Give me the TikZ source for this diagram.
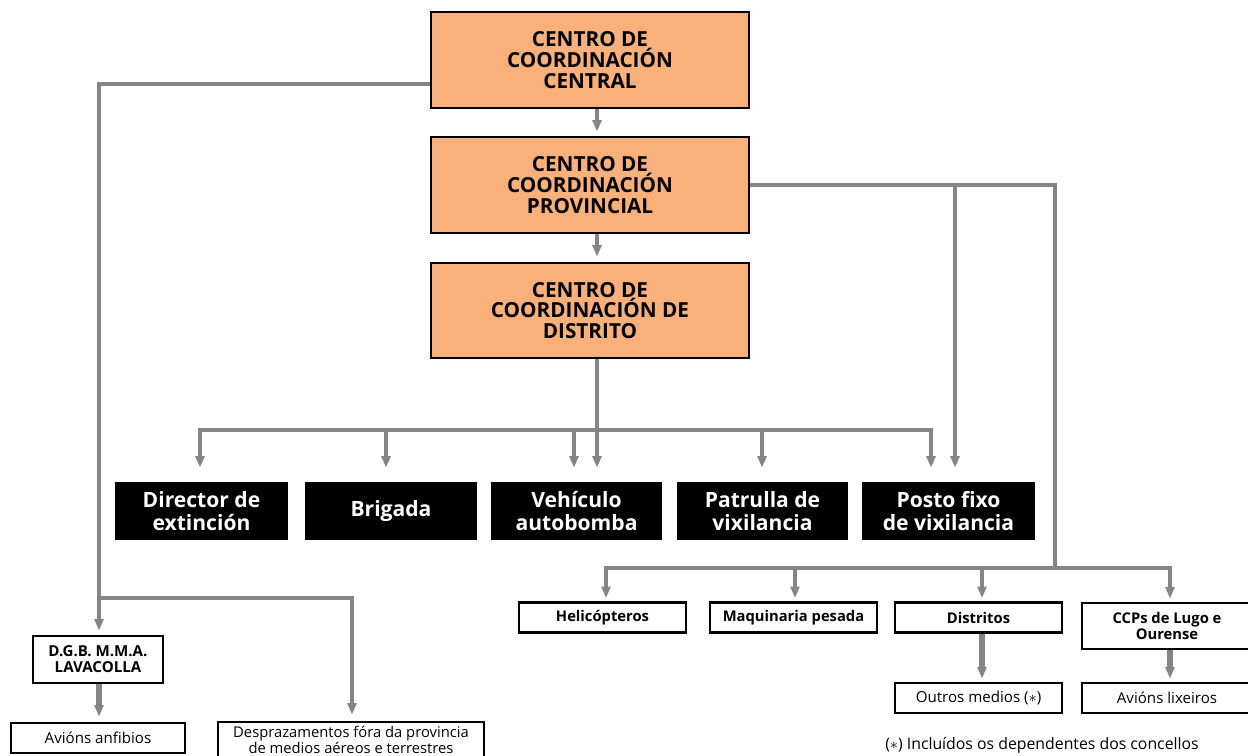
\documentclass[tikz,border=0pt]{standalone}
\usepackage{fontspec}
\setmainfont{Open Sans}
\usetikzlibrary{arrows.meta}
\definecolor{orangebox}{RGB}{249,176,122}
\definecolor{linegray}{RGB}{133,133,133}
\begin{document}
\begin{tikzpicture}[x=0.02cm,y=-0.02cm,
  every node/.style={inner sep=0pt,align=center},
  obox/.style={draw=black,line width=1.6pt,fill=orangebox,minimum width=318*0.02cm,minimum height=96*0.02cm,font=\bfseries\fontsize{11.8}{11.9}\selectfont},
  bbox/.style={fill=black,text=white,minimum width=172*0.02cm,minimum height=58*0.02cm,font=\bfseries\fontsize{12}{13}\selectfont},
  sbox/.style={draw=black,line width=1.6pt,fill=white,minimum height=30*0.02cm,font=\bfseries\fontsize{8.4}{9.4}\selectfont},
  rbox/.style={draw=black,line width=1.6pt,fill=white,minimum height=30*0.02cm,font=\fontsize{8.6}{8.6}\selectfont},
  conn/.style={draw=linegray,line width=2.5pt,-{Triangle[width=5pt,length=6.5pt]}},
  line/.style={draw=linegray,line width=2.5pt}]
\useasboundingbox (0,0) rectangle (1248,756);

% helper coordinates
\coordinate (xm) at (597,0);
\coordinate (xL) at (99,0);
\coordinate (yC) at (0,84);
\coordinate (yBar) at (0,430);
\coordinate (yL) at (0,598);
\coordinate (yR) at (0,568);
\coordinate (x200) at (200,0);
\coordinate (x386) at (386,0);
\coordinate (x574) at (574,0);
\coordinate (x762) at (762,0);
\coordinate (x931) at (931,0);
\coordinate (x955) at (955,0);
\coordinate (x1055) at (1055,0);
\coordinate (x606) at (606,0);
\coordinate (x795) at (795,0);
\coordinate (x982) at (982,0);
\coordinate (x1170) at (1170,0);
\coordinate (xDesp) at (352,0);

% orange centres
\node[obox] (cen) at (590,60) {CENTRO DE\\COORDINACIÓN\\CENTRAL};
\node[obox] (prov) at (590,185) {CENTRO DE\\COORDINACIÓN\\PROVINCIAL};
\node[obox,minimum height=95*0.02cm] (distr) at (590,310.5) {CENTRO DE\\COORDINACIÓN DE\\DISTRITO};

% black boxes
\node[bbox,minimum width=173*0.02cm] (dir) at (201.5,511) {Director de\\extinción};
\node[bbox] (brig) at (391,511) {Brigada};
\node[bbox,minimum width=171*0.02cm] (veh) at (576.5,511) {Vehículo\\autobomba};
\node[bbox,minimum width=171*0.02cm] (pat) at (762.5,511) {Patrulla de\\vixilancia};
\node[bbox,minimum width=173*0.02cm] (posto) at (948.5,511) {Posto fixo\\de vixilancia};

% right small boxes
\node[sbox,minimum width=167*0.02cm] (heli) at (602.5,617.5) {Helicópteros};
\node[sbox,minimum width=167*0.02cm] (maq) at (793.5,617.5) {Maquinaria pesada};
\node[sbox,minimum width=167*0.02cm] (dists) at (978.5,617.5) {Distritos};
\node[sbox,minimum width=170*0.02cm,minimum height=46*0.02cm] (ccp) at (1167,626) {CCPs de Lugo e\\Ourense};
\node[rbox,minimum width=167*0.02cm] (outros) at (978.5,698) {Outros medios ($\ast$)};
\node[rbox,minimum width=170*0.02cm] (lix) at (1167,698) {Avións lixeiros};

% left boxes
\node[sbox,minimum width=130*0.02cm,minimum height=47*0.02cm,font=\bfseries\fontsize{8.6}{9.2}\selectfont] (dgb) at (98,659.5) {D.G.B. M.M.A.\\LAVACOLLA};
\node[rbox,minimum width=174*0.02cm] (anf) at (98,738) {Avións anfibios};
\node[rbox,minimum width=266*0.02cm,minimum height=36*0.02cm,font=\fontsize{8.4}{8.4}\selectfont] (desp) at (351,740) {Desprazamentos fóra da provincia\\de medios aéreos e terrestres};

% footnote
\node[font=\fontsize{9}{11}\selectfont] (foot) at (1042,745) {($\ast$) Incluídos os dependentes dos concellos};

% vertical chain
\draw[conn] (cen.south -| xm) -- ([yshift=4*0.02cm]prov.north -| xm);
\draw[conn] (prov.south -| xm) -- ([yshift=5*0.02cm]distr.north -| xm);

% distrito bar
\draw[conn] (distr.south -| xm) -- ([yshift=14*0.02cm]veh.north -| xm);
\draw[conn] (xm |- yBar) -| ([yshift=14*0.02cm]dir.north -| x200);
\draw[conn] (xm |- yBar) -| ([yshift=14*0.02cm]posto.north -| x931);
\draw[conn] (x386 |- yBar) -- ([yshift=14*0.02cm]brig.north -| x386);
\draw[conn] (x574 |- yBar) -- ([yshift=14*0.02cm]veh.north -| x574);
\draw[conn] (x762 |- yBar) -- ([yshift=14*0.02cm]pat.north -| x762);

% provincial branches
\draw[line] (prov.east) -| (x1055 |- yR);
\draw[conn] (x955 |- prov.east) -- ([yshift=14*0.02cm]posto.north -| x955);
\draw[conn] (x1055 |- yR) -| ([yshift=3*0.02cm]heli.north -| x606);
\draw[conn] (x1055 |- yR) -| ([yshift=3*0.02cm]ccp.north -| x1170);
\draw[conn] (x795 |- yR) -- ([yshift=3*0.02cm]maq.north -| x795);
\draw[conn] (x982 |- yR) -- ([yshift=3*0.02cm]dists.north -| x982);
\draw[conn,line width=3pt] (dists.south -| x982) -- ([yshift=3*0.02cm]outros.north -| x982);
\draw[conn,line width=3pt] (ccp.south -| x1170) -- ([yshift=3*0.02cm]lix.north -| x1170);

% central branches (left)
\draw[conn] (cen.west |- yC) -| ([yshift=4*0.02cm]dgb.north -| xL);
\draw[conn] (xL |- yL) -| ([yshift=6*0.02cm]desp.north -| xDesp);
\draw[conn,line width=3pt] (dgb.south -| xL) -- ([yshift=5*0.02cm]anf.north -| xL);
\end{tikzpicture}
\end{document}
